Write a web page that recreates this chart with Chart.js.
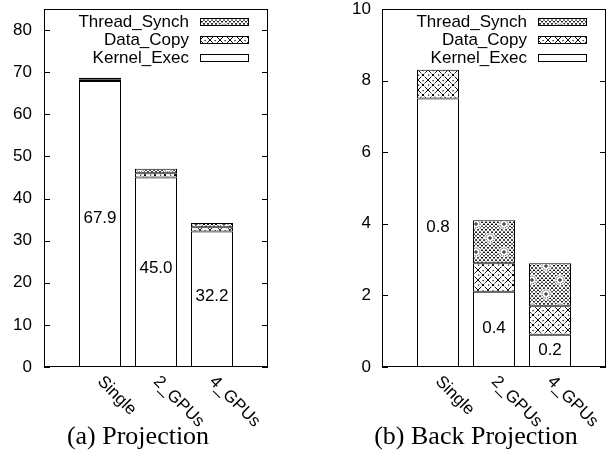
<!DOCTYPE html>
<html>
<head>
<meta charset="utf-8">
<script src="https://cdn.jsdelivr.net/npm/chart.js@4.4.1/dist/chart.umd.min.js"></script>
<style>
  body { margin: 0; background: #fff; }
  #wrap { position: relative; width: 616px; height: 459px; }
  canvas { position: absolute; top: 0; }
</style>
</head>
<body>
<div id="wrap">
  <canvas id="proj" width="308" height="459" style="left:0"></canvas>
  <canvas id="back" width="308" height="459" style="left:308px"></canvas>
</div>
<script>
// categories and series
const categories = ['Single', '2_GPUs', '4_GPUs'];
const seriesNames = ['Kernel_Exec', 'Data_Copy', 'Thread_Synch'];

const projKernel = [67.9, 45.0, 32.2];
const projCopy   = [0.4, 1.0, 1.0];
const projSynch  = [0.4, 1.1, 1.0];
const projLabels = ['67.9', '45.0', '32.2'];

const backKernel = [7.5, 2.1, 0.9];
const backCopy   = [0.8, 0.8, 0.8];
const backSynch  = [0.0, 1.2, 1.2];
const backLabels = ['0.8', '0.4', '0.2'];

const SANS = "'Liberation Sans', Arial, sans-serif";
const SERIF = "'Liberation Serif', 'Times New Roman', serif";

//pattern for Data_Copy: diagonal cross hatch with a dot in each diamond
function dataCopyPattern() {
  const c = document.createElement('canvas');
  c.width = 10; c.height = 10;
  const g = c.getContext('2d');
  g.fillStyle = '#fff';
  g.fillRect(0, 0, 10, 10);
  g.strokeStyle = '#000';
  g.lineWidth = 1;
  g.setLineDash([4, 1]);
  g.beginPath();
  g.moveTo(0, 0); g.lineTo(10, 10);
  g.moveTo(10, 0); g.lineTo(0, 10);
  g.stroke();
  g.fillStyle = '#000';
  g.fillRect(4.5, 0, 1.2, 1.2);
  g.fillRect(0, 4.5, 1.2, 1.2);
  return g.createPattern(c, 'repeat');
}

//pattern for Thread_Synch: dense dotted hatch with little medallions
function threadPattern() {
  const s = 28;
  const c = document.createElement('canvas');
  c.width = s; c.height = s;
  const g = c.getContext('2d');
  g.fillStyle = '#fff';
  g.fillRect(0, 0, s, s);
  g.strokeStyle = '#000';
  g.lineWidth = 1;
  g.setLineDash([1.5, 0.8]);
  g.beginPath();
  for (let k = -28; k <= 28; k += 4) {
    g.moveTo(k, 0); g.lineTo(k + s, s);
  }
  for (let k = 0; k <= 56; k += 4) {
    g.moveTo(k, 0); g.lineTo(k - s, s);
  }
  g.stroke();
  g.setLineDash([]);
  const centers = [[0, 0], [s, 0], [0, s], [s, s], [s / 2, s / 2]];
  centers.forEach(function (p) {
    g.fillStyle = '#fff';
    g.beginPath(); g.arc(p[0], p[1], 5.5, 0, Math.PI * 2); g.fill();
    g.lineWidth = 0.9;
    g.setLineDash([1, 1]);
    g.beginPath(); g.arc(p[0], p[1], 4, 0, Math.PI * 2); g.stroke();
    g.setLineDash([]);
    g.beginPath();
    g.moveTo(p[0] - 2, p[1]); g.lineTo(p[0] + 2, p[1]);
    g.moveTo(p[0], p[1] - 2); g.lineTo(p[0], p[1] + 2);
    g.stroke();
  });
  return g.createPattern(c, 'repeat');
}

const fills = ['#ffffff', dataCopyPattern(), threadPattern()];

//everything gnuplot-ish that chart.js does not do by itself
const gnuplotLook = {
  id: 'gnuplotLook',
  afterDraw(chart, args, o) {
    const ctx = chart.ctx;
    const a = chart.chartArea;
    const y = chart.scales.y;
    const x = chart.scales.x;
    ctx.save();
    ctx.strokeStyle = '#000';
    ctx.lineWidth = 1;

    // inward tics, mirrored on the right
    ctx.beginPath();
    y.ticks.forEach(function (t) {
      const py = Math.round(y.getPixelForValue(t.value)) + 0.5;
      ctx.moveTo(a.left, py); ctx.lineTo(a.left + 6, py);
      ctx.moveTo(a.right - 6, py); ctx.lineTo(a.right, py);
    });
    ctx.stroke();

    // frame
    ctx.strokeRect(a.left + 0.5, a.top + 0.5, a.right - a.left - 1, a.bottom - a.top - 1);

    // numbers inside the kernel bars
    ctx.fillStyle = '#000';
    ctx.font = '17px ' + SANS;
    ctx.textAlign = 'center';
    ctx.textBaseline = 'middle';
    o.values.forEach(function (txt, i) {
      const px = x.getPixelForValue(i);
      const py = y.getPixelForValue(o.kernel[i] * 0.52);
      ctx.fillText(txt, px, py);
    });

    // rotated category labels
    ctx.textAlign = 'left';
    ctx.textBaseline = 'top';
    categories.forEach(function (c, i) {
      ctx.save();
      ctx.translate(x.getPixelForValue(i) + 6, a.bottom + 6);
      ctx.rotate(Math.PI / 4);
      ctx.fillText(c, 0, 0);
      ctx.restore();
    });

    // key, top right, reversed order
    const ds = chart.data.datasets.slice().reverse();
    ds.forEach(function (d, i) {
      const cy = a.top + 13 + i * 18;
      ctx.textAlign = 'right';
      ctx.textBaseline = 'middle';
      ctx.fillText(d.label, a.right - 79, cy);
      ctx.fillStyle = d.backgroundColor;
      ctx.fillRect(a.right - 68, cy - 4, 49, 8);
      ctx.strokeRect(a.right - 68 + 0.5, cy - 4 + 0.5, 48, 7);
      ctx.fillStyle = '#000';
    });

    // caption
    ctx.font = '26px ' + SERIF;
    ctx.textAlign = 'center';
    ctx.textBaseline = 'middle';
    ctx.fillText(o.caption, o.captionX, 437);
    ctx.restore();
  }
};

function drawPanel(id, kernel, copy, synch, values, yMax, yStep, yWidth, yPad, rightPad, caption, captionX) {
  const series = [kernel, copy, synch];
  const datasets = series.map(function (arr, s) {
    return {
      label: seriesNames[s],
      // an empty segment is simply not drawn
      data: arr.map(function (v, i) { return { x: i, y: v > 0 ? v : null }; }),
      backgroundColor: fills[s],
      borderColor: '#000',
      borderWidth: 1,
      borderSkipped: false,
      barPercentage: 0.75,
      categoryPercentage: 1.0
    };
  });

  return new Chart(document.getElementById(id), {
    type: 'bar',
    data: { datasets: datasets },
    plugins: [gnuplotLook],
    options: {
      responsive: false,
      animation: false,
      devicePixelRatio: 1,
      layout: { padding: { top: 9, right: rightPad, bottom: 92, left: 0 } },
      plugins: {
        legend: { display: false },
        tooltip: { enabled: false },
        gnuplotLook: { values: values, kernel: kernel, caption: caption, captionX: captionX }
      },
      scales: {
        x: {
          type: 'linear',
          stacked: true,
          offset: false,
          min: -1,
          max: 3,
          display: false
        },
        y: {
          stacked: true,
          min: 0,
          max: yMax,
          grid: { display: false, drawTicks: false },
          border: { display: false },
          ticks: {
            stepSize: yStep,
            padding: yPad,
            color: '#000',
            font: { family: SANS, size: 17 }
          },
          afterBuildTicks: function (sc) {
            sc.ticks = sc.ticks.filter(function (t) { return t.value % yStep === 0; });
          },
          afterFit: function (sc) {
            sc.width = yWidth;
            sc.paddingTop = 0;
            sc.paddingBottom = 0;
          }
        }
      }
    }
  });
}

drawPanel('proj', projKernel, projCopy, projSynch, projLabels, 85, 10, 44, 12, 40, '(a) Projection', 138);
drawPanel('back', backKernel, backCopy, backSynch, backLabels, 10, 2, 74, 11, 10, '(b) Back Projection', 168);
</script>
</body>
</html>
